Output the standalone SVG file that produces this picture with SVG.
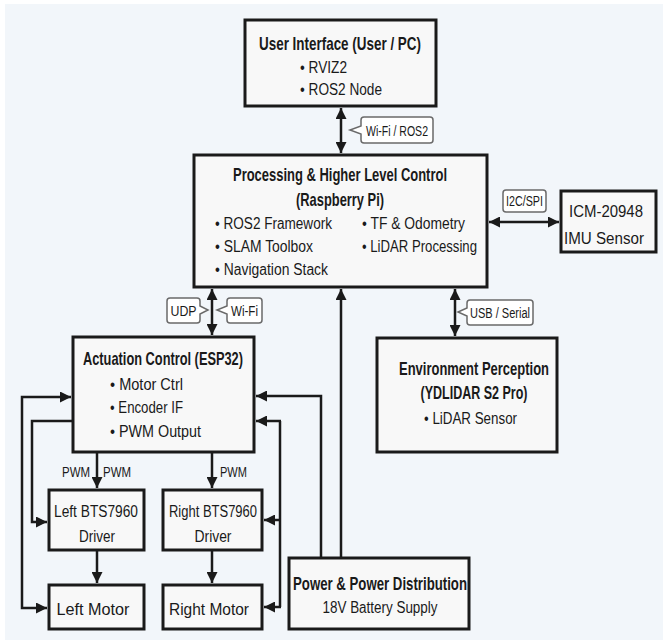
<svg xmlns="http://www.w3.org/2000/svg" width="663" height="640" viewBox="0 0 663 640">
<defs>
<style>
.box{fill:#f8f8f8;stroke:#1a1a1a;stroke-width:3}
.lbl{fill:#ffffff;stroke:#6a6a6a;stroke-width:1.5}
.ln{fill:none;stroke:#1a1a1a;stroke-width:2.5}
.t{font-family:"Liberation Sans","DejaVu Sans",sans-serif;fill:#1a1a1a}
.h{font-weight:bold;font-size:19px}
.b{font-size:16px}
.s{font-size:14px}
</style>
<marker id="ah" viewBox="0 0 10 10" refX="10" refY="5" markerWidth="11" markerHeight="11" markerUnits="userSpaceOnUse" orient="auto-start-reverse">
<path d="M0,0 L10,5 L0,10 z" fill="#1a1a1a"/>
</marker>
</defs>
<rect width="663" height="640" fill="#ffffff"/>
<rect x="5" y="4" width="658" height="636" fill="#f2f6fa"/>

<g id="connectors">
<line class="ln" x1="341" y1="108" x2="341" y2="153" marker-start="url(#ah)" marker-end="url(#ah)"/>
<line class="ln" x1="489" y1="222" x2="559" y2="222" marker-start="url(#ah)" marker-end="url(#ah)"/>
<line class="ln" x1="212" y1="289" x2="212" y2="335" marker-start="url(#ah)" marker-end="url(#ah)"/>
<line class="ln" x1="455" y1="289" x2="455" y2="336" marker-start="url(#ah)" marker-end="url(#ah)"/>
<line class="ln" x1="341" y1="557" x2="341" y2="289" marker-end="url(#ah)"/>
<path class="ln" d="M321,557 V396 H256" marker-end="url(#ah)"/>
<line class="ln" x1="280" y1="421" x2="280" y2="607"/>
<line class="ln" x1="281" y1="421" x2="256" y2="421" marker-end="url(#ah)"/>
<line class="ln" x1="281" y1="520" x2="264" y2="520" marker-end="url(#ah)"/>
<line class="ln" x1="281" y1="607" x2="264" y2="607" marker-end="url(#ah)"/>
<path class="ln" d="M71,397 H22 V608 H47" marker-start="url(#ah)" marker-end="url(#ah)"/>
<path class="ln" d="M72,421 H32 V522 H47" marker-end="url(#ah)"/>
<line class="ln" x1="97" y1="453" x2="97" y2="488" marker-end="url(#ah)"/>
<line class="ln" x1="212" y1="453" x2="212" y2="488" marker-end="url(#ah)"/>
<line class="ln" x1="97" y1="551" x2="97" y2="583" marker-end="url(#ah)"/>
<line class="ln" x1="212" y1="551" x2="212" y2="583" marker-end="url(#ah)"/>

<path class="lbl" d="M364,117 H430 Q433,117 433,120 V140 Q433,143 430,143 H364 Q361,143 361,140 V134 L350,130 L361,126 V120 Q361,117 364,117 z"/>
<text class="t s" x="397" y="135.5" text-anchor="middle" textLength="62" lengthAdjust="spacingAndGlyphs">Wi-Fi / ROS2</text>
<rect class="lbl" x="503" y="190" width="43" height="22" rx="3"/>
<text class="t s" x="524.5" y="206" text-anchor="middle" textLength="37" lengthAdjust="spacingAndGlyphs">I2C/SPI</text>
<path class="lbl" d="M170,298 H197 Q200,298 200,301 V306 L208,310 L200,314 V320 Q200,323 197,323 H170 Q167,323 167,320 V301 Q167,298 170,298 z"/>
<text class="t s" x="183.5" y="315.5" text-anchor="middle" textLength="26" lengthAdjust="spacingAndGlyphs">UDP</text>
<path class="lbl" d="M230,298 H259 Q262,298 262,301 V320 Q262,323 259,323 H230 Q227,323 227,320 V314 L217,310 L227,306 V301 Q227,298 230,298 z"/>
<text class="t s" x="244.5" y="315.5" text-anchor="middle" textLength="27" lengthAdjust="spacingAndGlyphs">Wi-Fi</text>
<path class="lbl" d="M470,300 H530 Q533,300 533,303 V322 Q533,325 530,325 H470 Q467,325 467,322 V316 L458,312 L467,308 V303 Q467,300 470,300 z"/>
<text class="t s" x="500" y="317.5" text-anchor="middle" textLength="60" lengthAdjust="spacingAndGlyphs">USB / Serial</text>
<text class="t s" x="62" y="477" textLength="28" lengthAdjust="spacingAndGlyphs">PWM</text>
<text class="t s" x="103" y="477" textLength="28" lengthAdjust="spacingAndGlyphs">PWM</text>
<text class="t s" x="220" y="477" textLength="27" lengthAdjust="spacingAndGlyphs">PWM</text>
</g>

<g id="ui">
<rect class="box" x="245" y="20" width="191" height="86"/>
<text class="t h" x="340" y="50" text-anchor="middle" textLength="162" lengthAdjust="spacingAndGlyphs">User Interface (User / PC)</text>
<text class="t b" x="300" y="73" textLength="47" lengthAdjust="spacingAndGlyphs">• RVIZ2</text>
<text class="t b" x="300" y="95" textLength="82" lengthAdjust="spacingAndGlyphs">• ROS2 Node</text>
</g>

<g id="proc">
<rect class="box" x="194" y="155" width="293" height="132"/>
<text class="t h" x="340" y="181" text-anchor="middle" textLength="214" lengthAdjust="spacingAndGlyphs">Processing &amp; Higher Level Control</text>
<text class="t h" x="340" y="206" text-anchor="middle" textLength="88" lengthAdjust="spacingAndGlyphs">(Raspberry Pi)</text>
<text class="t b" x="215" y="229" textLength="117" lengthAdjust="spacingAndGlyphs">• ROS2 Framework</text>
<text class="t b" x="215" y="252" textLength="98" lengthAdjust="spacingAndGlyphs">• SLAM Toolbox</text>
<text class="t b" x="215" y="275" textLength="113" lengthAdjust="spacingAndGlyphs">• Navigation Stack</text>
<text class="t b" x="362" y="229" textLength="103" lengthAdjust="spacingAndGlyphs">• TF &amp; Odometry</text>
<text class="t b" x="362" y="252" textLength="115" lengthAdjust="spacingAndGlyphs">• LiDAR Processing</text>
</g>

<g id="imu">
<rect class="box" x="561" y="191" width="95" height="61"/>
<text class="t b" x="606" y="217" text-anchor="middle" textLength="74" lengthAdjust="spacingAndGlyphs">ICM-20948</text>
<text class="t b" x="604" y="244" text-anchor="middle" textLength="80" lengthAdjust="spacingAndGlyphs">IMU Sensor</text>
</g>

<g id="esp">
<rect class="box" x="73" y="337" width="181" height="115"/>
<text class="t h" x="163" y="365" text-anchor="middle" textLength="160" lengthAdjust="spacingAndGlyphs">Actuation Control (ESP32)</text>
<text class="t b" x="110" y="390" textLength="73" lengthAdjust="spacingAndGlyphs">• Motor Ctrl</text>
<text class="t b" x="110" y="413" textLength="73" lengthAdjust="spacingAndGlyphs">• Encoder IF</text>
<text class="t b" x="110" y="437" textLength="91" lengthAdjust="spacingAndGlyphs">• PWM Output</text>
</g>

<g id="env">
<rect class="box" x="377" y="338" width="180" height="114"/>
<text class="t h" x="474" y="375" text-anchor="middle" textLength="150" lengthAdjust="spacingAndGlyphs">Environment Perception</text>
<text class="t h" x="474" y="399" text-anchor="middle" textLength="107" lengthAdjust="spacingAndGlyphs">(YDLIDAR S2 Pro)</text>
<text class="t b" x="424" y="424" textLength="93" lengthAdjust="spacingAndGlyphs">• LiDAR Sensor</text>
</g>

<g id="left-driver">
<rect class="box" x="49" y="490" width="95" height="60"/>
<text class="t b" x="96" y="517" text-anchor="middle" textLength="84" lengthAdjust="spacingAndGlyphs">Left BTS7960</text>
<text class="t b" x="97" y="542" text-anchor="middle" textLength="36" lengthAdjust="spacingAndGlyphs">Driver</text>
</g>

<g id="right-driver">
<rect class="box" x="163" y="490" width="99" height="60"/>
<text class="t b" x="213" y="517" text-anchor="middle" textLength="88" lengthAdjust="spacingAndGlyphs">Right BTS7960</text>
<text class="t b" x="213" y="542" text-anchor="middle" textLength="37" lengthAdjust="spacingAndGlyphs">Driver</text>
</g>

<g id="left-motor">
<rect class="box" x="49" y="585" width="95" height="44"/>
<text class="t b" x="93" y="615" text-anchor="middle" textLength="73" lengthAdjust="spacingAndGlyphs">Left Motor</text>
</g>

<g id="right-motor">
<rect class="box" x="163" y="585" width="99" height="44"/>
<text class="t b" x="209" y="615" text-anchor="middle" textLength="80" lengthAdjust="spacingAndGlyphs">Right Motor</text>
</g>

<g id="power">
<rect class="box" x="289" y="558" width="180" height="71"/>
<text class="t h" x="380" y="590" text-anchor="middle" textLength="174" lengthAdjust="spacingAndGlyphs">Power &amp; Power Distribution</text>
<text class="t b" x="380" y="613" text-anchor="middle" textLength="115" lengthAdjust="spacingAndGlyphs">18V Battery Supply</text>
</g>
</svg>
